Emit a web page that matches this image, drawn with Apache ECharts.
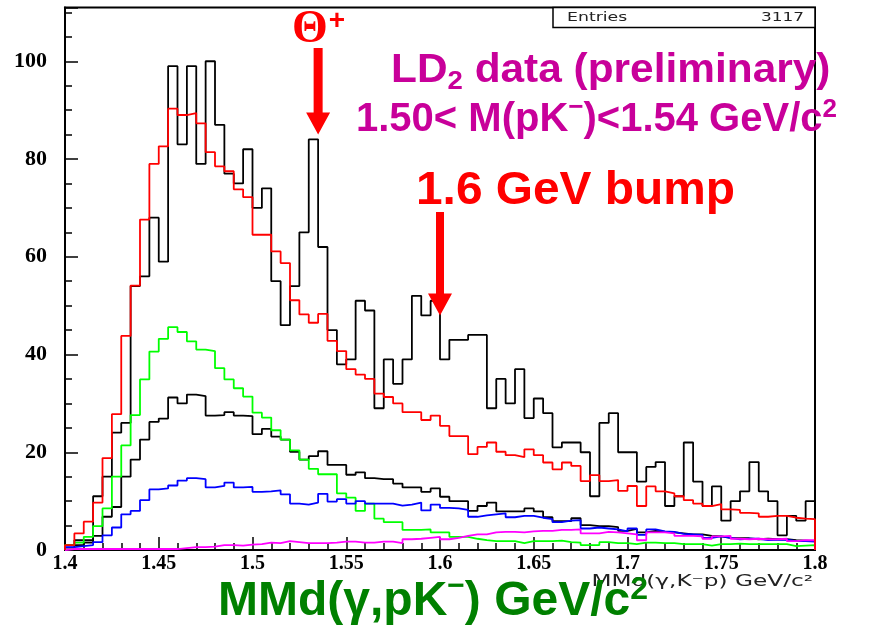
<!DOCTYPE html>
<html>
<head>
<meta charset="utf-8">
<script src="https://cdn.jsdelivr.net/npm/echarts@6/dist/echarts.min.js"></script>
<style>
  html, body { margin: 0; padding: 0; background: #fff; }
  #chart { width: 885px; height: 628px; }
</style>
</head>
<body>
<div id="chart"></div>
<script>
// 80 bins of 5 MeV from 1.40 to 1.80 GeV
const binLow = 1.4
const binWidth = 0.005

const dataCounts = [
  1, 2, 2, 11, 15, 24, 26, 54, 56, 68,
  59, 99, 83, 99, 79, 100, 87, 77, 75, 82,
  70, 74, 55, 46, 54, 65, 84, 62, 45, 38,
  39, 51, 49, 29, 39, 34, 39, 52, 48, 51,
  39, 43, 43, 44, 44, 29, 35, 30, 37, 27,
  31, 28, 21, 22, 22, 20, 11, 26, 28, 20,
  20, 14, 17, 18, 9, 11, 22, 14, 9, 13,
  6, 10, 12, 18, 12, 10, 3, 7, 6, 10
]
const fitTotal = [
  1.0, 3.4, 5.8, 9.7, 18.8, 27.8, 43.8, 54.1, 67.6, 79.0,
  82.6, 90.3, 89.0, 89.4, 87.3, 81.4, 78.5, 77.5, 73.8, 72.2,
  64.5, 64.5, 61.1, 58.7, 51.1, 48.2, 46.5, 48.3, 42.8, 40.7,
  37.0, 35.9, 35.0, 32.0, 31.3, 30.0, 28.2, 28.2, 26.6, 27.5,
  25.4, 23.3, 23.3, 19.6, 21.1, 22.0, 20.1, 19.4, 19.0, 20.6,
  19.4, 17.9, 16.5, 17.9, 17.2, 14.1, 15.3, 14.1, 14.3, 12.1,
  13.1, 9.0, 13.0, 12.0, 11.6, 11.0, 10.2, 9.5, 9.0, 9.4,
  8.3, 8.2, 7.6, 7.5, 6.8, 7.0, 7.0, 6.6, 6.4, 6.3
]
const greenComp = [
  1.0, 1.5, 2.7, 4.9, 8.5, 15.0, 21.4, 27.6, 34.9, 40.6,
  43.2, 45.6, 44.6, 42.7, 41.0, 40.7, 37.2, 34.9, 33.1, 31.4,
  28.1, 27.1, 24.5, 22.6, 20.4, 18.5, 16.6, 15.5, 15.5, 11.6,
  10.7, 8.0, 9.5, 6.4, 5.7, 5.7, 4.1, 4.1, 4.2, 3.6,
  3.6, 2.7, 2.7, 2.3, 2.0, 1.8, 1.8, 1.8, 1.4, 1.8,
  1.8, 1.8, 1.9, 1.6, 1.5, 1.0, 1.0, 1.6, 1.4, 1.4,
  1.2, 1.5, 1.5, 1.4, 1.4, 1.2, 1.2, 1.2, 0.9, 1.2,
  1.2, 1.3, 1.2, 1.2, 1.2, 1.2, 1.2, 0.8, 0.9, 1.0
]
const blackComp = [
  0.5, 1.0, 1.5, 2.9, 6.8, 8.8, 15.0, 18.5, 22.6, 26.2,
  26.9, 31.2, 30.0, 31.8, 31.5, 27.5, 27.6, 28.2, 27.5, 27.4,
  23.7, 24.8, 23.2, 22.6, 20.1, 18.5, 19.2, 20.2, 17.4, 17.4,
  15.4, 15.9, 14.7, 14.5, 14.5, 13.6, 12.8, 12.8, 11.9, 12.6,
  10.9, 10.0, 10.0, 8.0, 9.0, 9.7, 7.9, 7.9, 7.9, 8.5,
  7.9, 6.7, 5.9, 5.9, 6.5, 5.1, 4.9, 4.9, 4.7, 3.9,
  4.3, 3.6, 3.9, 3.7, 3.6, 3.4, 3.2, 3.2, 2.9, 2.8,
  2.5, 2.4, 2.4, 2.2, 2.3, 2.2, 2.2, 2.0, 1.9, 1.8
]
const blueComp = [
  0.6, 0.8, 1.0, 1.6, 3.0, 4.6, 7.3, 8.0, 10.2, 12.4,
  12.6, 13.2, 14.2, 14.7, 14.5, 12.8, 13.1, 13.8, 12.8, 12.9,
  11.9, 12.0, 12.2, 11.4, 9.5, 9.3, 9.7, 11.5, 9.9, 10.4,
  9.5, 10.0, 9.5, 9.5, 9.5, 9.1, 9.3, 9.7, 8.1, 9.3,
  8.6, 8.5, 8.2, 6.8, 7.1, 7.3, 7.5, 6.7, 7.0, 7.0,
  6.6, 6.3, 5.7, 6.0, 6.1, 4.4, 4.6, 4.4, 4.2, 3.8,
  4.4, 3.1, 4.2, 3.8, 3.7, 3.3, 3.2, 3.1, 2.5, 2.8,
  2.5, 2.2, 2.3, 2.3, 2.0, 2.1, 2.1, 1.8, 1.8, 1.7
]
const magentaComp = [
  0.2, 0.2, 0.2, 0.2, 0.2, 0.2, 0.2, 0.2, 0.2, 0.2,
  0.2, 0.2, 0.4, 0.6, 0.6, 0.7, 1.0, 1.0, 0.9, 1.1,
  1.2, 1.5, 1.4, 1.8, 1.6, 1.4, 1.4, 1.4, 1.5, 1.7,
  1.7, 1.5, 1.5, 1.7, 1.7, 1.4, 2.2, 2.3, 2.5, 2.7,
  2.2, 2.5, 2.9, 3.2, 3.2, 3.6, 3.7, 3.7, 3.6, 3.8,
  3.9, 3.9, 4.1, 4.1, 4.2, 3.4, 3.4, 3.7, 3.6, 3.4,
  3.2, 2.0, 3.6, 3.6, 3.4, 2.9, 2.9, 2.8, 2.3, 2.8,
  2.9, 2.3, 2.2, 2.3, 2.2, 2.2, 2.3, 1.8, 2.0, 2.0
]

// arrow tips in data coordinates (mass, counts)
const thetaArrowTip = [1.535, 85]
const bumpArrowTip = [1.6, 48]

// step outline like a ROOT histogram: rises from 0 at the first edge, falls to 0 at the last
function histPoints(values) {
  const edge = i => +(binLow + i * binWidth).toFixed(4)
  const pts = [[edge(0), 0]]
  values.forEach((v, i) => pts.push([edge(i), v]))
  pts.push([edge(values.length), values[values.length - 1]])
  pts.push([edge(values.length), 0])
  return pts
}

function histSeries(values, color) {
  return {
    type: 'line',
    step: 'end',
    showSymbol: false,
    silent: true,
    data: histPoints(values),
    lineStyle: { color: color, width: 1.8 }
  }
}

const axisFont = { fontFamily: 'Liberation Serif', fontWeight: 'bold', color: '#000' }

const chart = echarts.init(document.getElementById('chart'))
chart.setOption({
  animation: false,
  grid: {
    left: 65, right: 70, top: 7.5, bottom: 78,
    show: true, borderColor: '#000', borderWidth: 2
  },
  xAxis: {
    type: 'value',
    min: 1.4,
    max: 1.8,
    interval: 0.05,
    axisLine: { lineStyle: { color: '#000', width: 2 } },
    axisTick: { inside: true, length: 13, lineStyle: { color: '#000', width: 1.5 } },
    minorTick: { show: true, splitNumber: 5, length: 7, lineStyle: { color: '#000', width: 1.5 } },
    splitLine: { show: false },
    axisLabel: Object.assign({ margin: 4, fontSize: 20 }, axisFont)
  },
  yAxis: [{
    type: 'value',
    min: 0,
    max: 111,
    interval: 5,
    axisLine: { show: true, lineStyle: { color: '#000', width: 2 } },
    axisTick: { show: true, inside: true, length: 7, lineStyle: { color: '#000', width: 1.5 } },
    splitLine: { show: false },
    axisLabel: Object.assign({
      margin: 18,
      fontSize: 22,
      formatter: v => (v % 20 === 0 ? String(v) : '')
    }, axisFont)
  }, {
    type: 'value',
    position: 'left',
    min: 0,
    max: 111,
    interval: 20,
    axisLine: { show: false },
    axisTick: { show: true, inside: true, length: 13, lineStyle: { color: '#000', width: 1.5 } },
    splitLine: { show: false },
    axisLabel: { show: false }
  }],
  series: [
    histSeries(dataCounts, '#000000'),
    histSeries(blackComp, '#000000'),
    histSeries(greenComp, '#00ff00'),
    histSeries(blueComp, '#0000ff'),
    histSeries(magentaComp, '#ff00ff'),
    histSeries(fitTotal, '#ff0000')
  ]
})

function arrowPoints(tip, shaftTop, headH, headHalf, shaftHalf) {
  const [x, y] = tip
  return [
    [x - shaftHalf, shaftTop], [x - shaftHalf, y - headH], [x - headHalf, y - headH],
    [x, y], [x + headHalf, y - headH], [x + shaftHalf, y - headH], [x + shaftHalf, shaftTop]
  ]
}

const t1 = chart.convertToPixel({ gridIndex: 0 }, thetaArrowTip)
const t2 = chart.convertToPixel({ gridIndex: 0 }, bumpArrowTip)
const magenta = '#c8009a'
const green = '#008000'
const bold = 'Liberation Sans'

chart.setOption({
  graphic: [
    {
      type: 'rect', z: 100,
      shape: { x: 553, y: 7.5, width: 262, height: 20 },
      style: { fill: '#fff', stroke: '#000', lineWidth: 1.5 }
    },
    {
      type: 'text', z: 101, x: 567, y: 18, scaleX: 1.33,
      style: { text: 'Entries', fontFamily: 'DejaVu Sans', fontSize: 13, fill: '#222', verticalAlign: 'middle' }
    },
    {
      type: 'text', z: 101, x: 804, y: 18, scaleX: 1.3,
      style: { text: '3117', fontFamily: 'DejaVu Sans', fontSize: 13, fill: '#222', align: 'right', verticalAlign: 'middle' }
    },
    {
      type: 'polygon', z: 100,
      shape: { points: arrowPoints(t1, 48, 22, 12, 4.5) },
      style: { fill: '#ff0000' }
    },
    {
      type: 'polygon', z: 100,
      shape: { points: arrowPoints(t2, 212, 22, 12, 4) },
      style: { fill: '#ff0000' }
    },
    {
      type: 'text', z: 101, x: 292, y: 30,
      style: {
        text: 'Θ{p|+}', fontFamily: 'Liberation Serif', fontWeight: 'bold', fontSize: 46,
        fill: '#ff0000', verticalAlign: 'middle',
        rich: { p: { fontFamily: bold, fontWeight: 'bold', fontSize: 28, fill: '#ff0000', padding: [0, 0, 18, 1] } }
      }
    },
    {
      type: 'text', z: 101, x: 391, y: 71, scaleX: 1.06,
      style: {
        text: 'LD{d|2} data (preliminary)', fontFamily: bold, fontWeight: 'bold', fontSize: 40,
        fill: magenta, verticalAlign: 'middle',
        rich: { d: { fontFamily: bold, fontWeight: 'bold', fontSize: 26, fill: magenta, padding: [22, 0, 0, 0] } }
      }
    },
    {
      type: 'text', z: 101, x: 356, y: 120,
      style: {
        text: '1.50< M(pK{m|−})<1.54 GeV/c{s|2}', fontFamily: bold, fontWeight: 'bold', fontSize: 40,
        fill: magenta, verticalAlign: 'middle',
        rich: {
          m: { fontFamily: bold, fontWeight: 'bold', fontSize: 26, fill: magenta, padding: [0, 0, 24, 0] },
          s: { fontFamily: bold, fontWeight: 'bold', fontSize: 26, fill: magenta, padding: [0, 0, 20, 0] }
        }
      }
    },
    {
      type: 'text', z: 101, x: 416, y: 191, scaleX: 1.04,
      style: { text: '1.6 GeV bump', fontFamily: bold, fontWeight: 'bold', fontSize: 46, fill: '#ff0000', verticalAlign: 'middle' }
    },
    {
      type: 'text', z: 101, x: 813, y: 582, scaleX: 1.45,
      style: { text: 'MMd(γ,K⁻p) GeV/c²', fontFamily: 'DejaVu Sans', fontSize: 16, fill: '#222', align: 'right', verticalAlign: 'middle' }
    },
    {
      type: 'text', z: 101, x: 218, y: 602,
      style: {
        text: 'MMd(γ,pK{m|−}) GeV/c{s|2}', fontFamily: bold, fontWeight: 'bold', fontSize: 48,
        fill: green, verticalAlign: 'middle',
        rich: {
          m: { fontFamily: bold, fontWeight: 'bold', fontSize: 30, fill: green, padding: [0, 0, 30, 0] },
          s: { fontFamily: bold, fontWeight: 'bold', fontSize: 32, fill: green, padding: [0, 0, 24, 0] }
        }
      }
    }
  ]
})
</script>
</body>
</html>
